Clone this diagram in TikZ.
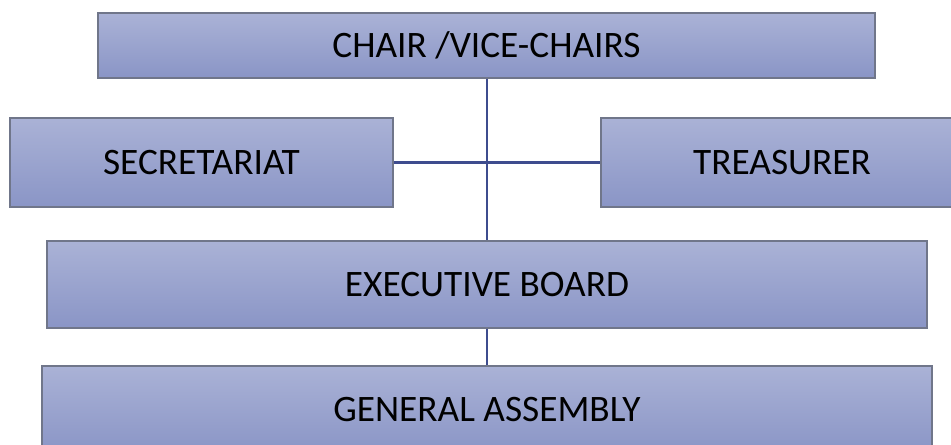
\documentclass[tikz,border=0pt]{standalone}
\usepackage{fontspec}
\setmainfont{Carlito}
\begin{document}
\begin{tikzpicture}[x=0.75pt,y=-0.75pt,
  orgbox/.style={draw=boxline,line width=0.9pt,top color=boxtop,bottom color=boxbot,
    minimum width=#1,inner sep=0pt,font=\fontsize{28}{32}\selectfont,text=black},
  link/.style={draw=linkcol,line width=1.6pt}]
\definecolor{boxtop}{HTML}{AAB2D6}
\definecolor{boxbot}{HTML}{8A95C6}
\definecolor{boxline}{HTML}{70768A}
\definecolor{linkcol}{HTML}{3E4C8E}
\useasboundingbox (0,0) rectangle (951,445);
\clip (0,0) rectangle (951,445);
\node[orgbox=777*0.75pt,minimum height=65*0.75pt] (chair) at (486.5,45.5) {CHAIR /VICE-CHAIRS};
\node[orgbox=383*0.75pt,minimum height=89*0.75pt] (sec) at (201.5,162.5) {SECRETARIAT};
\node[orgbox=362*0.75pt,minimum height=89*0.75pt] (tre) at (782,162.5) {TREASURER};
\node[orgbox=880*0.75pt,minimum height=87*0.75pt] (exec) at (487,284.5) {EXECUTIVE BOARD};
\node[orgbox=890*0.75pt,minimum height=87*0.75pt] (ga) at (487,409.5) {GENERAL ASSEMBLY};
\coordinate (j) at (487,162.5);
\draw[link] (chair.south -| j) -- (exec.north -| j);
\draw[link] (sec.east) -- (tre.west);
\draw[link] (exec.south -| j) -- (ga.north -| j);
\end{tikzpicture}
\end{document}
